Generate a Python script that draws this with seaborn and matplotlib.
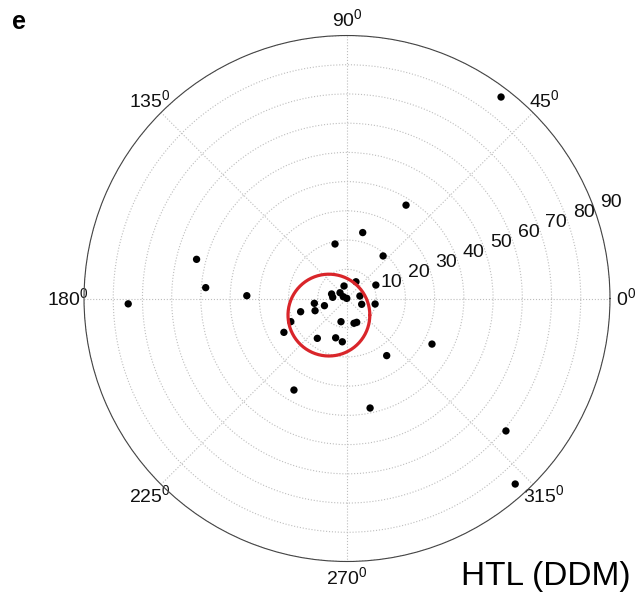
import numpy as np
import pandas as pd
import matplotlib
matplotlib.use('Agg')
import matplotlib.pyplot as plt
import seaborn as sns

# data: angle (deg) and radius of each point
theta_deg = [52.6, 57.7, 76.6, 102.4, 49.7, 165.4, 175.6, 178.4, 181.4, 331.8,
             239.9, 281.9, 320.2, 312.2, 304.8, 103.5, 61.8, 25.0, 163.6, 175.2,
             140.4, 154.0, 146.0, 10.9, 338.5, 348.9, 188.4, 197.6, 200.9, 195.9,
             202.4, 208.2, 255.5, 285.8, 292.2, 233.3, 253.9, 263.8]
radius = [86.8, 37.8, 23.2, 19.1, 19.1, 53.2, 48.5, 34.3, 74.9, 33.0,
          36.2, 38.3, 70.8, 85.7, 23.8, 4.4, 6.5, 10.9, 5.5, 4.9,
          3.1, 1.4, 0.1, 4.5, 5.4, 9.8, 11.3, 8.1, 11.7, 16.5,
          20.8, 24.5, 8.2, 8.8, 8.8, 17.0, 14.0, 14.9]

# red circle: centre (angle, radius) and its own radius, in plot units
circle_center_deg = 222.5
circle_center_r = 8.4
circle_radius = 14.0

angle_ticks = [0, 45, 90, 135, 180, 225, 270, 315]
angle_labels = [f'{a}$^0$' for a in angle_ticks]
r_ticks = [10, 20, 30, 40, 50, 60, 70, 80, 90]
r_labels = [str(r) for r in r_ticks]

sns.set_style('white')
plt.rcParams['font.family'] = ['Liberation Sans', 'DejaVu Sans']
plt.rcParams['mathtext.fontset'] = 'custom'
plt.rcParams['mathtext.rm'] = 'Liberation Sans'
plt.rcParams['text.color'] = 'black'

df = pd.DataFrame({'theta': np.deg2rad(theta_deg), 'r': radius})

fig = plt.figure(figsize=(6.36, 5.95), dpi=100)
ax = fig.add_axes([0.1321, 0.0563, 0.8270, 0.8840], projection='polar')

sns.scatterplot(data=df, x='theta', y='r', ax=ax, color='black', s=28,
                edgecolor='none', zorder=3)

# circle drawn in cartesian then converted to polar
t = np.linspace(0, 2 * np.pi, 300)
cx = circle_center_r * np.cos(np.deg2rad(circle_center_deg))
cy = circle_center_r * np.sin(np.deg2rad(circle_center_deg))
xs = cx + circle_radius * np.cos(t)
ys = cy + circle_radius * np.sin(t)
ax.plot(np.arctan2(ys, xs), np.hypot(xs, ys), color='#d9252a', lw=2.3, zorder=4)

ax.set_ylim(0, 90)
ax.set_rticks(r_ticks)
ax.set_yticklabels([])
ax.set_thetagrids(angle_ticks, angle_labels, fontsize=14, color='#111111')
ax.tick_params(axis='x', pad=1)
ax.grid(color='#bdbdbd', linestyle=':', linewidth=0.8)
ax.spines['polar'].set_color('#444444')
ax.spines['polar'].set_linewidth(0.8)
ax.set_xlabel('')
ax.set_ylabel('')

for r, lab in zip(r_ticks, r_labels):
    ax.text(np.deg2rad(20), r + 6.2, lab, fontsize=14, color='#111111',
            ha='center', va='center')

fig.text(0.019, 0.963, 'e', fontsize=18, fontweight='bold', ha='left', va='center')
fig.text(0.991, 0.017, 'HTL (DDM)', fontsize=24, ha='right', va='baseline')

fig.savefig('out.png', dpi=100)
